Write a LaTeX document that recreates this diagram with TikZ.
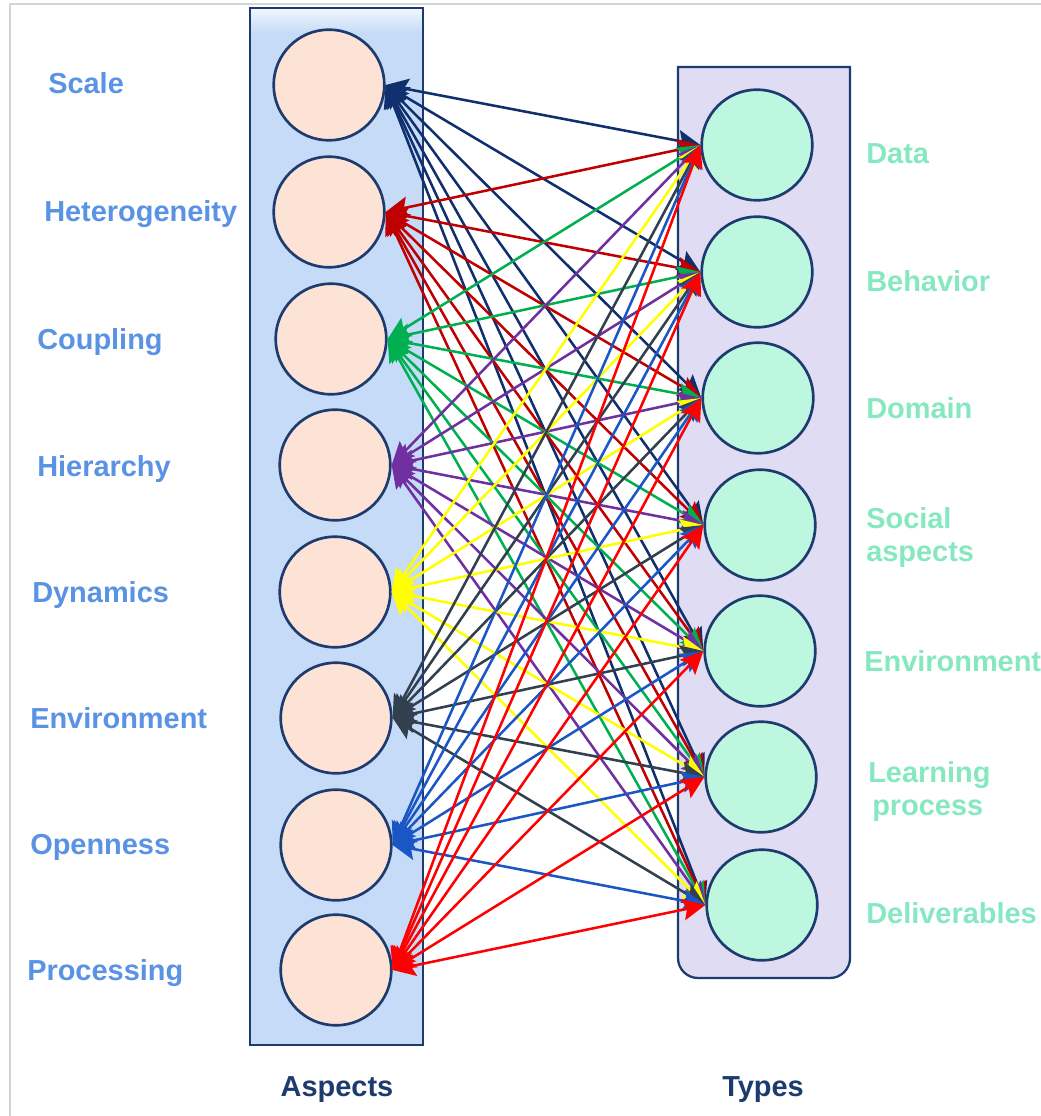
\documentclass[tikz,border=0pt]{standalone}
\usepackage{fontspec}
\setmainfont{Liberation Sans}
\usetikzlibrary{arrows.meta}

% panel and circle colours
\definecolor{edgenavy}{HTML}{1D3B6E}
\definecolor{aspectfill}{HTML}{C5DBF7}
\definecolor{typefill}{HTML}{E0DCF3}
\definecolor{aspectdisc}{HTML}{FCE3D6}
\definecolor{typedisc}{HTML}{BEF7DF}
\definecolor{aspecttext}{HTML}{5A92E4}
\definecolor{typetext}{HTML}{86E8C2}
\definecolor{framegray}{HTML}{D4D4D4}
% one link colour per aspect
\definecolor{cScale}{HTML}{0F2F6E}
\definecolor{cHetero}{HTML}{C00000}
\definecolor{cCoupling}{HTML}{00B050}
\definecolor{cHierarchy}{HTML}{7030A0}
\definecolor{cDynamics}{HTML}{FFFF00}
\definecolor{cEnviron}{HTML}{323F4F}
\definecolor{cOpenness}{HTML}{1A56C4}
\definecolor{cProcessing}{HTML}{FF0000}

\begin{document}
\begin{tikzpicture}[x=0.75pt,y=-0.75pt,
  panel/.style={draw=edgenavy, line width=1.7pt},
  aspectnode/.style={circle, draw=edgenavy, line width=2pt, fill=aspectdisc,
    minimum size=83pt, inner sep=0pt},
  typenode/.style={circle, draw=edgenavy, line width=2pt, fill=typedisc,
    minimum size=83pt, inner sep=0pt},
  lbl/.style={font=\bfseries\fontsize{21.7}{24.7}\selectfont, inner sep=0pt, anchor=base west},
  aspectlbl/.style={lbl, text=aspecttext},
  typelbl/.style={lbl, text=typetext, align=left},
  titlelbl/.style={lbl, text=edgenavy, anchor=base},
  link/.style={line width=1.9pt,
    {Stealth[length=17pt,width=16pt,inset=3pt]}-{Stealth[length=17pt,width=16pt,inset=3pt]}}
]
\useasboundingbox (0,0) rectangle (1041,1116);
\fill[white] (0,0) rectangle (1041,1116);
\draw[framegray, line width=0.8pt] (10,1116) -- (10,4) -- (1041,4);

% aspects panel with its light top band
\fill[aspectfill] (250,8) rectangle (423,1045);
\shade[top color=white!75!aspectfill, bottom color=aspectfill] (250,8) rectangle (423,34);
\draw[panel] (250,8) rectangle (423,1045);

% types panel, rounded at the bottom only
\draw[panel, fill=typefill] (850,67) [rounded corners=15pt] -- (850,978) -- (678,978) [sharp corners] -- (678,67) -- cycle;

% aspect discs
\node[aspectnode] (L1) at (329,85) {};
\node[aspectnode] (L2) at (329,212) {};
\node[aspectnode] (L3) at (331,339) {};
\node[aspectnode] (L4) at (335,465) {};
\node[aspectnode] (L5) at (335,592) {};
\node[aspectnode] (L6) at (336,718) {};
\node[aspectnode] (L7) at (336,845) {};
\node[aspectnode] (L8) at (336,970) {};

% type discs
\node[typenode] (R1) at (757,145) {};
\node[typenode] (R2) at (757,272) {};
\node[typenode] (R3) at (758,398) {};
\node[typenode] (R4) at (760,525) {};
\node[typenode] (R5) at (760,651) {};
\node[typenode] (R6) at (761,777) {};
\node[typenode] (R7) at (762,905) {};

% aspect labels
\node[aspectlbl] (tL1) at (48,94) {Scale};
\node[aspectlbl] (tL2) at (44,222) {Heterogeneity};
\node[aspectlbl] (tL3) at (37,349) {Coupling};
\node[aspectlbl] (tL4) at (37,476) {Hierarchy};
\node[aspectlbl] (tL5) at (32,602) {Dynamics};
\node[aspectlbl] (tL6) at (30,728) {Environment};
\node[aspectlbl] (tL7) at (30,854) {Openness};
\node[aspectlbl] (tL8) at (27,980) {Processing};

% type labels (two-line labels sit on the baseline of their last line)
\node[typelbl] (tR1) at (866,164) {Data};
\node[typelbl] (tR2) at (866,291) {Behavior};
\node[typelbl] (tR3) at (866,418) {Domain};
\node[typelbl] (tR4) at (866,561) {Social\\aspects};
\node[typelbl] (tR5) at (864,671) {Environment};
\node[typelbl] (tR6) at (868,815) {Learning\\\hspace*{3pt}process};
\node[typelbl] (tR7) at (866,923) {Deliverables};

% panel titles
\node[titlelbl] (ta) at (337,1096) {Aspects};
\node[titlelbl] (tt) at (763,1096) {Types};

% every aspect is linked with every type
\foreach \i/\c in {1/cScale,2/cHetero,3/cCoupling,4/cHierarchy,5/cDynamics,6/cEnviron,7/cOpenness,8/cProcessing}{
  \foreach \j in {1,...,7}{
    \draw[link, \c] (L\i.east) -- (R\j.west);
  }
}
\end{tikzpicture}
\end{document}
